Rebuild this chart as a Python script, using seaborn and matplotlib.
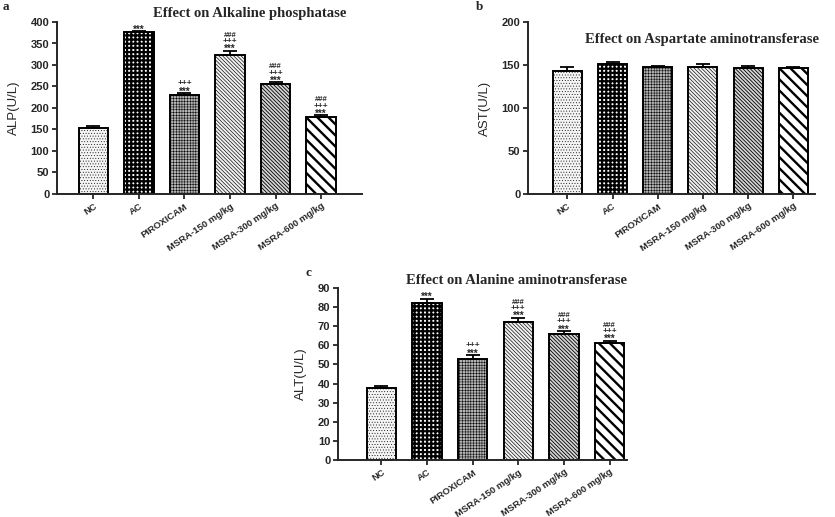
import numpy as np
import seaborn as sns
import matplotlib.pyplot as plt

# ------------------------------------------------------------
# Data (mean and SEM)
# ------------------------------------------------------------
groups = ["NC", "AC", "PIROXICAM", "MSRA-150 mg/kg", "MSRA-300 mg/kg", "MSRA-600 mg/kg"]

alp_mean = [153, 376, 230, 323, 256, 179]
alp_sem = [4, 3, 5, 10, 4, 4]
alp_marks = ["", "***", "+++\n***", "###\n+++\n***", "###\n+++\n***", "###\n+++\n***"]

ast_mean = [143, 151, 148, 148, 146, 146]
ast_sem = [5, 3, 1, 3, 3, 2]
ast_marks = ["", "", "", "", "", ""]

alt_mean = [37.5, 82, 53, 72, 66, 61]
alt_sem = [1, 2.5, 2, 2.5, 1.5, 1.5]
alt_marks = ["", "***", "+++\n***", "###\n+++\n***", "###\n+++\n***", "###\n+++\n***"]

# fill, hatch pattern and hatch line width per group
faces = ["#f4f4f4", "white", "#b4b4b4", "#f0f0f0", "#d4d4d4", "white"]
hatches = ["......", "++++", "++++++", "\\" * 9, "\\" * 9, "\\" * 3]
hatch_lw = [0.3, 1.6, 0.35, 0.45, 0.6, 1.7]

# symbol rows: font size and glyph centre (in em above baseline)
sym_size = {"*": 7, "+": 6, "#": 5.5}
sym_mid = {"*": 0.58, "+": 0.35, "#": 0.35}

sns.set_style("ticks")
plt.rcParams['font.family'] = ['Liberation Sans', 'DejaVu Sans']

fig = plt.figure(figsize=(8.35, 5.17), dpi=100)
W, H = 835, 517


def px_axes(left, top, right, bottom):
    return fig.add_axes([left / W, 1 - bottom / H, (right - left) / W, (bottom - top) / H])


def panel(ax, means, sems, marks, ylabel, ymax, ystep, xlim):
    sns.barplot(x=groups, y=means, color="white", edgecolor="black", linewidth=1.4,
                width=0.64, errorbar=None, ax=ax)
    for patch, fc, h, lw in zip(ax.patches, faces, hatches, hatch_lw):
        patch.set_facecolor(fc)
        patch.set_hatch(h)
        if hasattr(patch, "set_hatch_linewidth"):
            patch.set_hatch_linewidth(lw)
    x = np.arange(len(groups))
    ax.errorbar(x, means, yerr=[np.zeros(len(sems)), sems], fmt="none",
                ecolor="black", elinewidth=1.3, capsize=5, capthick=1.3)
    for xi, m, s, t in zip(x, means, sems, marks):
        if not t:
            continue
        rows = t.split("\n")[::-1]
        for i, row in enumerate(rows):
            fs = sym_size[row[0]]
            centre = 3.0 + i * 4.5
            ax.annotate(row, xy=(xi, m + s), xytext=(0, centre - sym_mid[row[0]] * fs),
                        textcoords="offset points", ha="center", va="baseline",
                        fontsize=fs, fontweight="bold")
    ax.set_ylim(0, ymax)
    ax.set_yticks(np.arange(0, ymax + 1, ystep))
    ax.set_xlim(*xlim)
    ax.set_ylabel(ylabel, fontsize=9.5, labelpad=8)
    ax.set_xticks(x)
    ax.set_xticklabels(groups, rotation=34, ha="right", rotation_mode="anchor",
                       fontsize=6.8, fontweight="bold")
    for lab in ax.get_yticklabels():
        lab.set_fontweight("bold")
        lab.set_fontsize(8)
    ax.tick_params(width=1.3, length=3.5, pad=2)
    for sp in ["left", "bottom"]:
        ax.spines[sp].set_linewidth(1.4)
    sns.despine(ax=ax)


# ------------------------------------------------------------
# Panel a: ALP
# ------------------------------------------------------------
ax_a = px_axes(57, 22, 362, 194)
panel(ax_a, alp_mean, alp_sem, alp_marks, "ALP(U/L)", 400, 50, (-0.8, 5.9))

# ------------------------------------------------------------
# Panel b: AST
# ------------------------------------------------------------
ax_b = px_axes(528, 22, 815, 194)
panel(ax_b, ast_mean, ast_sem, ast_marks, "AST(U/L)", 200, 50, (-0.87, 5.48))

# ------------------------------------------------------------
# Panel c: ALT
# ------------------------------------------------------------
ax_c = px_axes(338, 288, 627, 460)
panel(ax_c, alt_mean, alt_sem, alt_marks, "ALT(U/L)", 90, 10, (-0.95, 5.38))

# titles and panel letters
serif = ['Liberation Serif', 'DejaVu Serif']
fig.text(250 / W, 1 - 14 / H, "Effect on Alkaline phosphatase", ha="center", va="center",
         fontsize=10.5, fontweight="bold", family=serif)
fig.text(702 / W, 1 - 40 / H, "Effect on Aspartate aminotransferase", ha="center", va="center",
         fontsize=10.5, fontweight="bold", family=serif)
fig.text(517 / W, 1 - 281 / H, "Effect on Alanine aminotransferase", ha="center", va="center",
         fontsize=10.5, fontweight="bold", family=serif)
fig.text(6 / W, 1 - 7 / H, "a", ha="center", va="center", fontsize=9.5, fontweight="bold", family=serif)
fig.text(480 / W, 1 - 7 / H, "b", ha="center", va="center", fontsize=9.5, fontweight="bold", family=serif)
fig.text(308 / W, 1 - 273 / H, "c", ha="center", va="center", fontsize=9.5, fontweight="bold", family=serif)

fig.savefig("out.png", dpi=100)
